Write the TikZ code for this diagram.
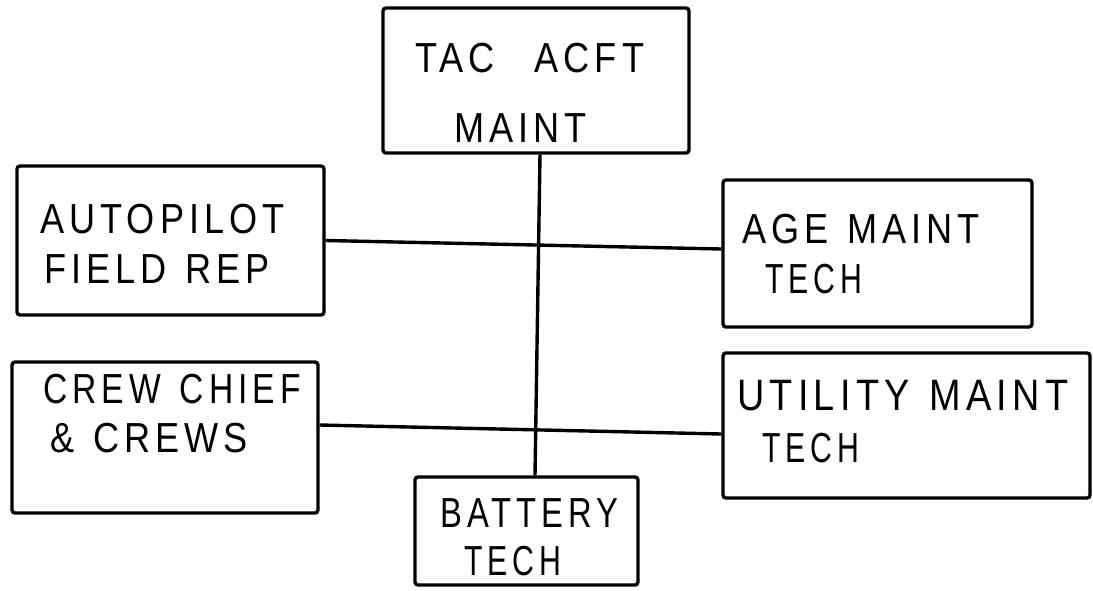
\documentclass[tikz,border=0pt]{standalone}
\usepackage{fontspec}
\setmainfont{Liberation Sans}[FakeStretch=0.86, LetterSpace=12]
\newfontfamily\techfont{Liberation Sans}[FakeStretch=0.72, LetterSpace=12]
\newfontfamily\batfont{Liberation Sans}[FakeStretch=0.78, LetterSpace=12]
\newfontfamily\crewfont{Liberation Sans}[FakeStretch=0.80, LetterSpace=12]
\newcommand{\wsp}{\hspace{0.45em}}
\begin{document}
\begin{tikzpicture}[x=1pt,y=-1pt,
  box/.style={draw=black, line width=3.4pt, rounded corners=3pt, minimum width=#1, inner sep=0pt},
  conn/.style={draw=black, line width=3.4pt},
  lbl/.style={anchor=base west, inner sep=0pt, font=\fontsize{42}{50}\selectfont}]
\useasboundingbox (0,0) rectangle (1093,590);
% boxes
\node[box=306pt, minimum height=145pt] (tac)  at (536,80.5) {};
\node[box=307pt, minimum height=149pt] (ap)   at (170.5,240.5) {};
\node[box=309pt, minimum height=147pt] (age)  at (877.5,253.5) {};
\node[box=306pt, minimum height=151pt] (crew) at (165,437.5) {};
\node[box=367pt, minimum height=145pt] (util) at (906.5,425.5) {};
\node[box=223pt, minimum height=108pt] (bat)  at (526.5,531) {};
% labels
\node[lbl] (tac1) at (415,72) {TAC\hspace{0.95em}ACFT};
\node[lbl] (tac2) at (454,142) {MAINT};
\node[lbl] (ap1) at (40,233) {AUTOPILOT};
\node[lbl] (ap2) at (44,283) {FIELD\wsp REP};
\node[lbl] (age1) at (742,243) {AGE\wsp MAINT};
\node[lbl] (age2) at (765,293) {\techfont TECH};
\node[lbl] (crew1) at (43,403) {\crewfont CREW\wsp CHIEF};
\node[lbl] (crew2) at (50,452) {\&\wsp CREWS};
\node[lbl, font=\fontsize{44}{50}\selectfont] (util1) at (737,410) {UTILITY\wsp MAINT};
\node[lbl] (util2) at (762,462) {\techfont TECH};
\node[lbl] (bat1) at (440,527) {\batfont BATTERY};
\node[lbl] (bat2) at (464,575) {\techfont TECH};
% connectors
\draw[conn] ([xshift=4pt]tac.south) -- ([xshift=8.5pt]bat.north);
\draw[conn] (ap.east) -- ([yshift=4.5pt]age.west);
\draw[conn] ([yshift=12.5pt]crew.east) -- ([yshift=-8.5pt]util.west);
\end{tikzpicture}
\end{document}
